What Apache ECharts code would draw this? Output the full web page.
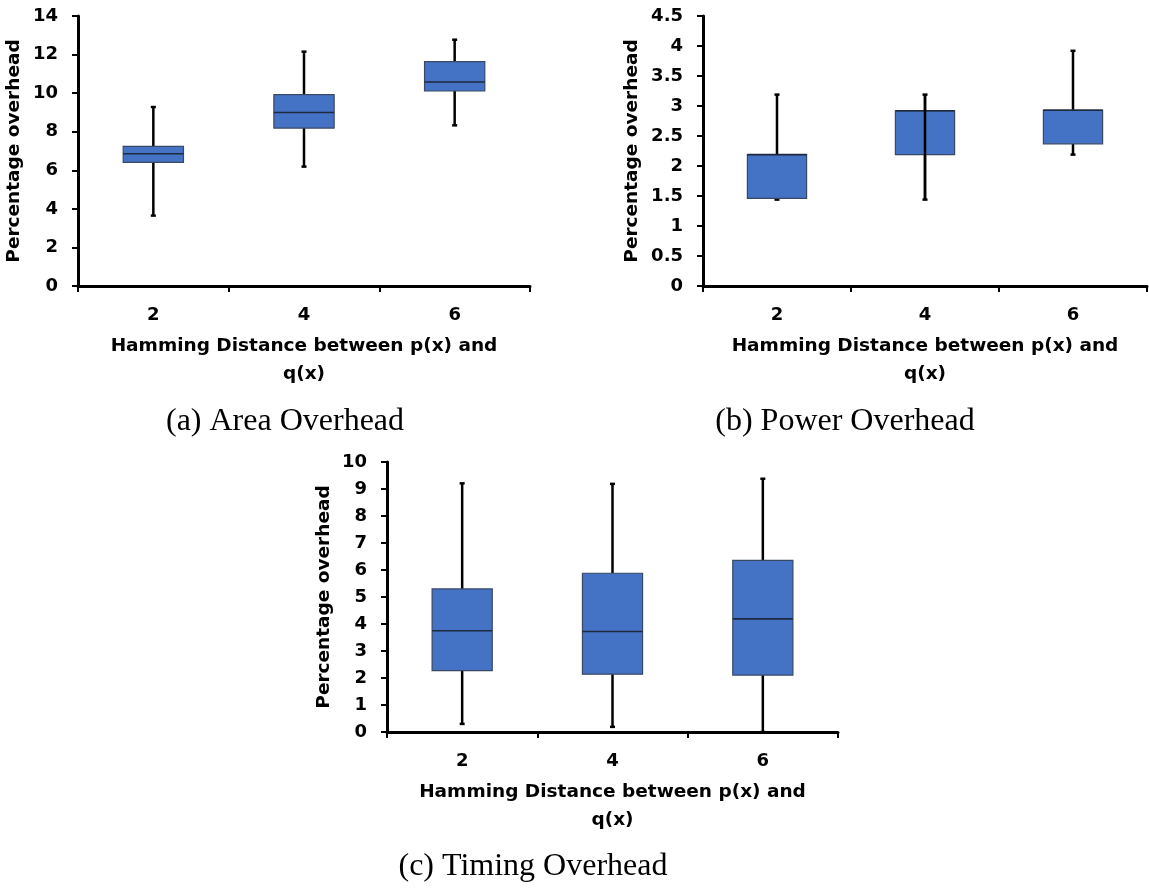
<!DOCTYPE html>
<html>
<head>
<meta charset="utf-8">
<script src="https://cdn.jsdelivr.net/npm/echarts@6/dist/echarts.min.js"></script>
<style>
  html, body { margin: 0; padding: 0; background: #fff; }
  #main { width: 1149px; height: 888px; }
</style>
</head>
<body>
<div id="main"></div>
<script>
// hamming distance categories, shared by all three panels
var categories = ['2', '4', '6'];

// box stats per category: [low, q1, median, q3, high]
var areaStats = [
  [3.65, 6.41, 6.86, 7.24, 9.28],
  [6.19, 8.19, 9.0, 9.92, 12.15],
  [8.33, 10.11, 10.58, 11.63, 12.77]
];
var powerStats = [
  [1.44, 1.46, 2.19, 2.19, 3.19],
  [1.44, 2.19, 2.92, 2.92, 3.19],
  [2.19, 2.37, 2.93, 2.93, 3.92]
];
var timingStats = [
  [0.30, 2.27, 3.75, 5.30, 9.21],
  [0.19, 2.14, 3.72, 5.88, 9.19],
  [0.0, 2.11, 4.19, 6.36, 9.38]
];
// whisker drawn straight across the box (as in the original power plot)
var areaThrough = [0, 0, 0];
var powerThrough = [0, 1, 0];
var timingThrough = [0, 0, 0];

var yName = 'Percentage overhead';
var xName = 'Hamming Distance between p(x) and\nq(x)';

var boldFont = '"DejaVu Sans", "Liberation Sans", Arial, sans-serif';
var serifFont = '"Liberation Serif", "Times New Roman", serif';

function toData(stats, through) {
  return stats.map(function (s, i) {
    return [i, s[0], s[1], s[2], s[3], s[4], through[i]];
  });
}

function renderBox(params, api) {
  var c = api.value(0);
  var low = api.coord([c, api.value(1)]);
  var q1 = api.coord([c, api.value(2)]);
  var med = api.coord([c, api.value(3)]);
  var q3 = api.coord([c, api.value(4)]);
  var high = api.coord([c, api.value(5)]);
  var through = api.value(6);
  var cx = low[0];
  var half = api.size([1, 0])[0] * 0.2;
  var cap = 2.5;
  var wStyle = { stroke: '#000', lineWidth: 2.5 };
  var kids = [];
  kids.push({ type: 'line', shape: { x1: cx, y1: q3[1], x2: cx, y2: high[1] }, style: wStyle });
  kids.push({ type: 'line', shape: { x1: cx, y1: low[1], x2: cx, y2: q1[1] }, style: wStyle });
  kids.push({ type: 'line', shape: { x1: cx - cap, y1: high[1], x2: cx + cap, y2: high[1] }, style: wStyle });
  kids.push({ type: 'line', shape: { x1: cx - cap, y1: low[1], x2: cx + cap, y2: low[1] }, style: wStyle });
  kids.push({
    type: 'rect',
    shape: { x: cx - half, y: q3[1], width: half * 2, height: q1[1] - q3[1] },
    style: { fill: '#4472C4', stroke: '#3a4866', lineWidth: 1.2 }
  });
  kids.push({ type: 'line', shape: { x1: cx - half, y1: med[1], x2: cx + half, y2: med[1] }, style: { stroke: '#1e2a40', lineWidth: 1.6 } });
  if (through) {
    kids.push({ type: 'line', shape: { x1: cx, y1: low[1], x2: cx, y2: high[1] }, style: wStyle });
  }
  return { type: 'group', children: kids };
}

function xAxisFor(idx) {
  return {
    type: 'category',
    gridIndex: idx,
    data: categories,
    name: xName,
    nameLocation: 'middle',
    nameGap: 46,
    nameTextStyle: { fontFamily: boldFont, fontWeight: 'bold', fontSize: 18.5, color: '#000', lineHeight: 28 },
    axisLine: { lineStyle: { color: '#000', width: 3 } },
    axisTick: { show: true, alignWithLabel: false, length: 6, lineStyle: { color: '#000', width: 2 } },
    axisLabel: { margin: 20, fontFamily: boldFont, fontWeight: 'bold', fontSize: 18, color: '#000' },
    splitLine: { show: false }
  };
}

function yAxisFor(idx, max, step, gap) {
  return {
    type: 'value',
    gridIndex: idx,
    min: 0,
    max: max,
    interval: step,
    name: yName,
    nameLocation: 'middle',
    nameGap: gap,
    nameTextStyle: { fontFamily: boldFont, fontWeight: 'bold', fontSize: 18.5, color: '#000' },
    axisLine: { show: true, lineStyle: { color: '#000', width: 3 } },
    axisTick: { show: true, length: 6, lineStyle: { color: '#000', width: 2 } },
    axisLabel: { margin: 20, fontFamily: boldFont, fontWeight: 'bold', fontSize: 18, color: '#000' },
    splitLine: { show: false }
  };
}

function caption(text, x, y) {
  return {
    type: 'text',
    x: x,
    y: y,
    style: {
      text: text,
      align: 'center', textAlign: 'center',
      verticalAlign: 'top', textVerticalAlign: 'top',
      fontFamily: serifFont, fontSize: 32, fill: '#000'
    }
  };
}

var chart = echarts.init(document.getElementById('main'));
chart.setOption({
  backgroundColor: '#fff',
  animation: false,
  grid: [
    { left: 78, top: 16, width: 452, height: 270 },
    { left: 703, top: 16, width: 444, height: 270 },
    { left: 387, top: 462, width: 451, height: 270 }
  ],
  xAxis: [xAxisFor(0), xAxisFor(1), xAxisFor(2)],
  yAxis: [
    yAxisFor(0, 14, 2, 54),
    yAxisFor(1, 4.5, 0.5, 61),
    yAxisFor(2, 10, 1, 53)
  ],
  series: [
    { type: 'custom', xAxisIndex: 0, yAxisIndex: 0, renderItem: renderBox, data: toData(areaStats, areaThrough), encode: { x: 0, y: [1, 2, 3, 4, 5] } },
    { type: 'custom', xAxisIndex: 1, yAxisIndex: 1, renderItem: renderBox, data: toData(powerStats, powerThrough), encode: { x: 0, y: [1, 2, 3, 4, 5] } },
    { type: 'custom', xAxisIndex: 2, yAxisIndex: 2, renderItem: renderBox, data: toData(timingStats, timingThrough), encode: { x: 0, y: [1, 2, 3, 4, 5] } }
  ],
  graphic: [
    caption('(a) Area Overhead', 285, 406),
    caption('(b) Power Overhead', 845, 406),
    caption('(c) Timing Overhead', 533, 851)
  ]
});
</script>
</body>
</html>
